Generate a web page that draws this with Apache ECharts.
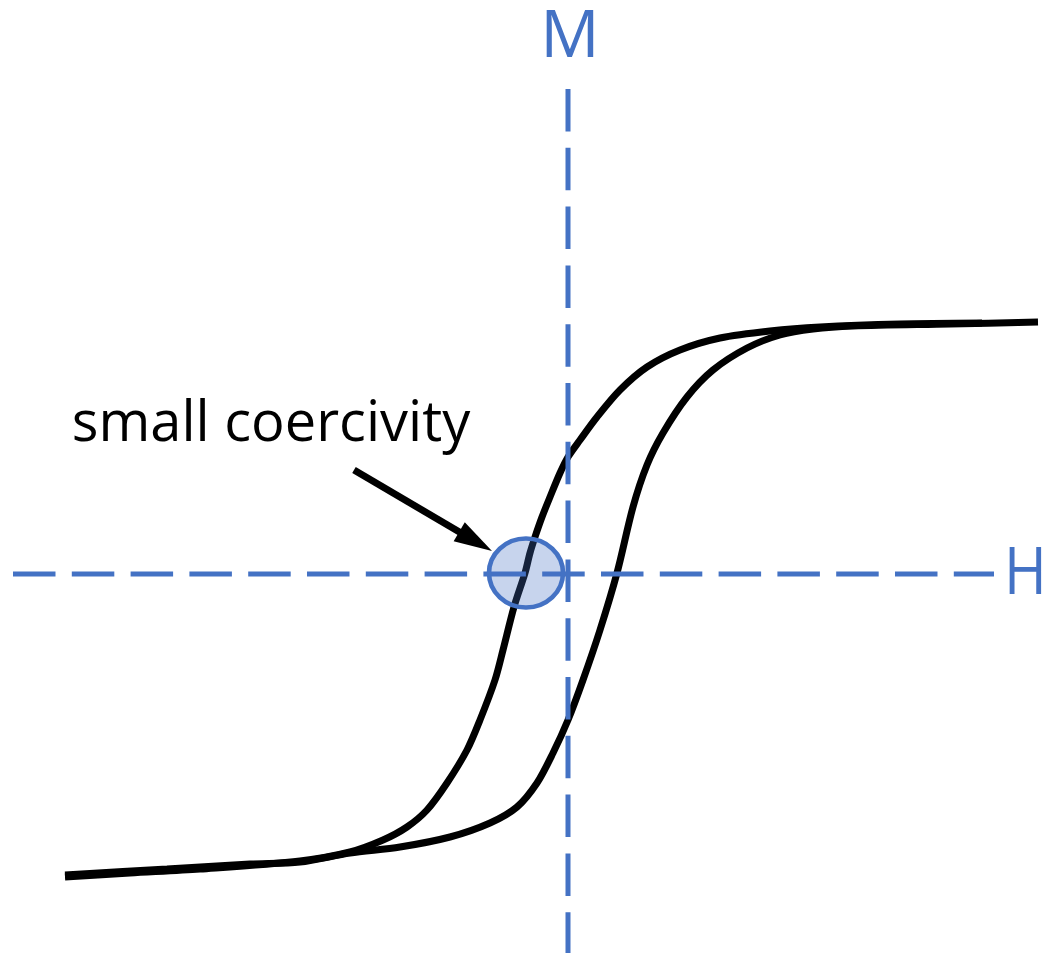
<!DOCTYPE html>
<html>
<head>
<meta charset="utf-8">
<script src="https://cdn.jsdelivr.net/npm/echarts@6/dist/echarts.min.js"></script>
<style>
  html, body { margin: 0; padding: 0; background: #fff; }
  #loop { width: 1043px; height: 953px; }
</style>
</head>
<body>
<div id="loop"></div>
<script>
// hysteresis loop, H on x and M on y (arbitrary units)
const descending = [
  [4.14, 2.51], [3.32, 2.50], [2.52, 2.47], [2.02, 2.43], [1.52, 2.36],
  [1.12, 2.24], [0.79, 2.07], [0.52, 1.84], [0.29, 1.57], [0.12, 1.34],
  [0.00, 1.17], [-0.08, 1.01], [-0.18, 0.77], [-0.26, 0.57], [-0.33, 0.37],
  [-0.38, 0.21], [-0.43, 0.01], [-0.54, -0.33], [-0.65, -0.76], [-0.73, -1.06],
  [-0.88, -1.46], [-1.01, -1.76], [-1.21, -2.09], [-1.41, -2.36], [-1.61, -2.53],
  [-1.85, -2.66], [-2.18, -2.78], [-2.68, -2.87], [-3.68, -2.95], [-4.38, -2.99],
  [-5.03, -3.03]
];
const ascending = [
  [-5.03, -3.01], [-4.01, -2.95], [-3.18, -2.90], [-2.68, -2.88], [-2.18, -2.79],
  [-1.68, -2.73], [-1.18, -2.63], [-0.78, -2.49], [-0.51, -2.33], [-0.31, -2.09],
  [-0.15, -1.79], [0.00, -1.46], [0.15, -1.06], [0.32, -0.56], [0.49, 0.01],
  [0.65, 0.67], [0.79, 1.09], [0.95, 1.41], [1.19, 1.77], [1.45, 2.04],
  [1.79, 2.26], [2.12, 2.39], [2.45, 2.45], [2.85, 2.48], [3.82, 2.50],
  [4.70, 2.52]
];
const hAxisLine = [[-5.55, 0], [4.26, 0]];
const mAxisLine = [[0, 4.85], [0, -3.9]];
const coercivitySpot = [[-0.42, 0.01]];
const arrowFrom = [-2.14, 1.04];
const arrowTo = [-0.924, 0.326];

const blue = '#4472C4';
const chart = echarts.init(document.getElementById('loop'));

chart.setOption({
  animation: false,
  grid: { left: 0, right: 0, top: 0, bottom: 0 },
  xAxis: { type: 'value', min: -5.68, max: 4.75, show: false },
  yAxis: { type: 'value', min: -3.79, max: 5.74, show: false },
  series: [
    {
      type: 'line', data: descending, symbol: 'none', smooth: 0.3, z: 2,
      lineStyle: { color: '#000', width: 7 }
    },
    {
      type: 'line', data: ascending, symbol: 'none', smooth: 0.3, z: 2,
      lineStyle: { color: '#000', width: 7 }
    },
    {
      type: 'line', data: hAxisLine, symbol: 'none', z: 4,
      lineStyle: { color: blue, width: 5, type: [42.5, 16.3] }
    },
    {
      type: 'line', data: mAxisLine, symbol: 'none', z: 4,
      lineStyle: { color: blue, width: 5, type: [42.5, 16.3] }
    },
    {
      type: 'scatter', data: coercivitySpot, z: 5, silent: true,
      symbol: 'circle', symbolSize: [74, 69],
      itemStyle: { color: 'rgba(68,114,196,0.3)', borderColor: blue, borderWidth: 4.5, opacity: 1 },
      markLine: {
        silent: true,
        animation: false,
        label: { show: false },
        lineStyle: { color: '#000', width: 7, type: 'solid' },
        data: [[
          { coord: arrowFrom, symbol: 'none' },
          { coord: arrowTo, symbol: 'triangle', symbolSize: [22, 38] }
        ]]
      }
    }
  ],
  graphic: [
    {
      type: 'text', x: 570, y: 38,
      style: { text: 'M', fill: blue, font: '66px "Open Sans"', textAlign: 'center', textVerticalAlign: 'middle' }
    },
    {
      type: 'text', x: 1004, y: 575, scaleX: 0.88,
      style: { text: 'H', fill: blue, font: '66px "Open Sans"', textAlign: 'left', textVerticalAlign: 'middle' }
    },
    {
      type: 'text', x: 271, y: 425,
      style: { text: 'small coercivity', fill: '#000', font: '56px "Open Sans"', textAlign: 'center', textVerticalAlign: 'middle' }
    }
  ]
});
</script>
</body>
</html>
